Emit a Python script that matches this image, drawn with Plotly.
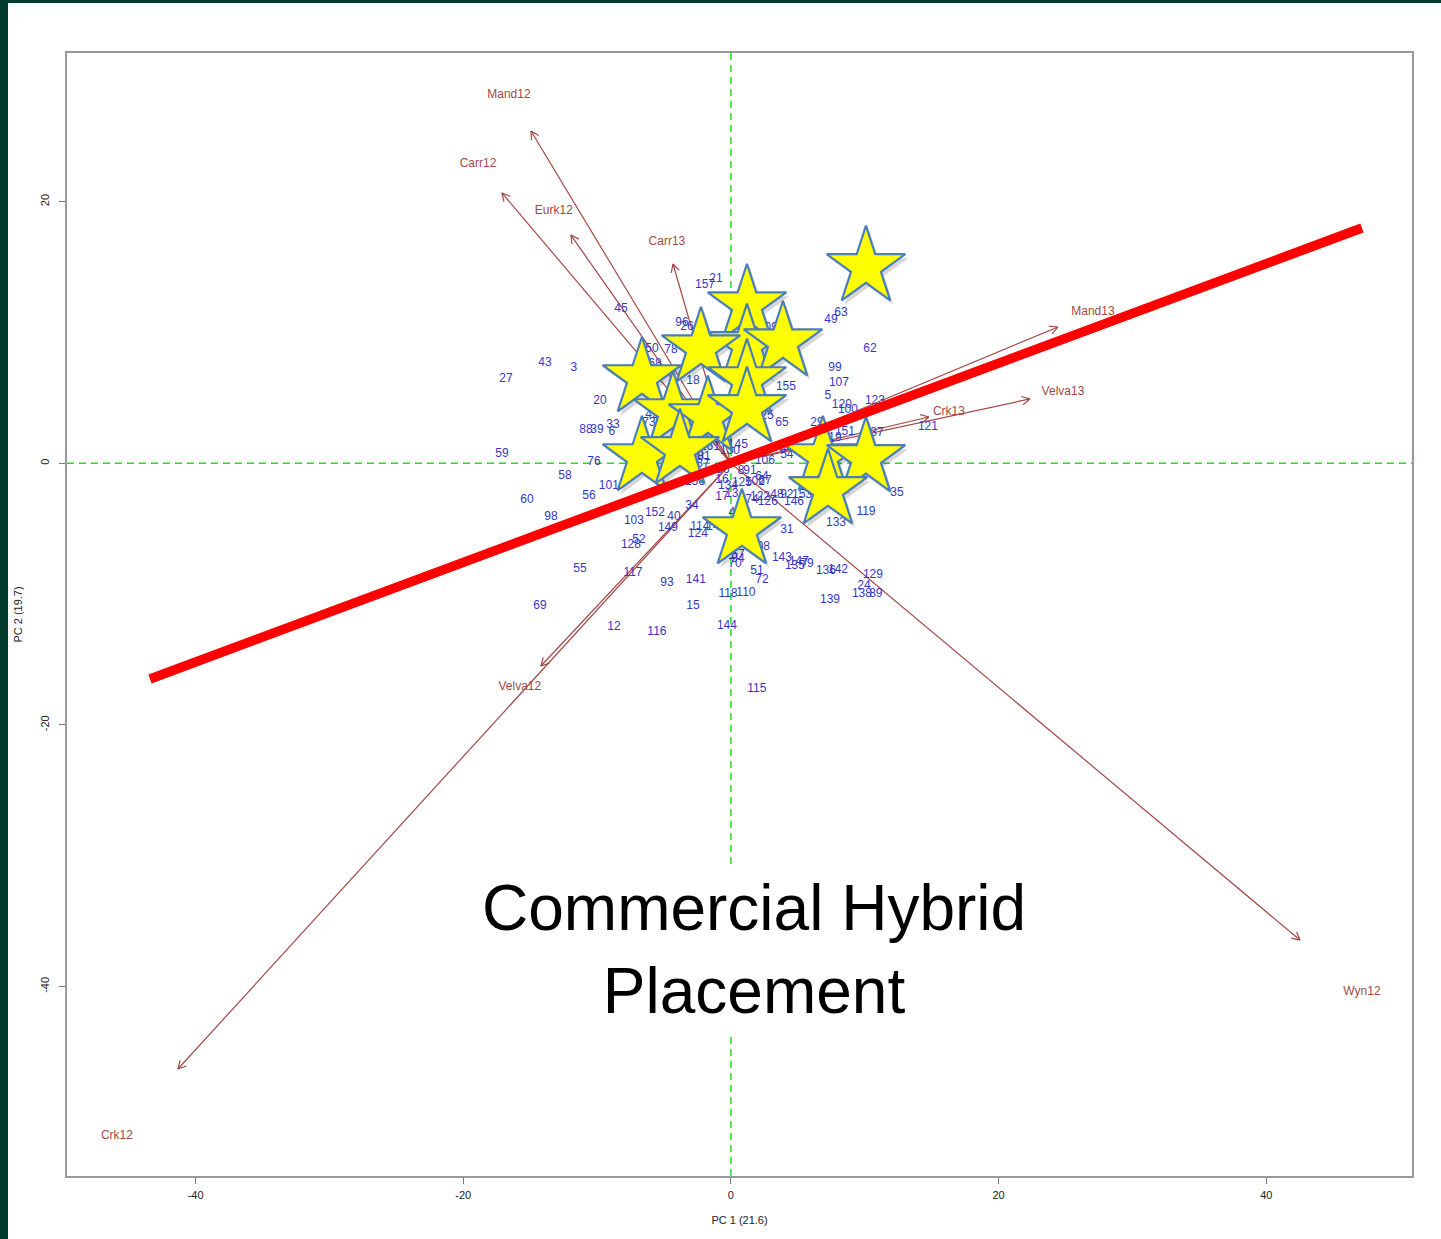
import numpy as np
import plotly.graph_objects as go

# ---------------- data ----------------
x_tick_vals = [-40, -20, 0, 20, 40]
x_tick_text = ["-40", "-20", "0", "20", "40"]
y_tick_vals = [-40, -20, 0, 20]
y_tick_text = ["-40", "-20", "0", "20"]
x_title = "PC 1 (21.6)"
y_title = "PC 2 (19.7)"

arrow_names = ["Mand12", "Carr12", "Eurk12", "Carr13", "Mand13",
               "Velva13", "Crk13", "Velva12", "Crk12", "Wyn12"]
arrow_x = [-14.94, -17.11, -11.96, -4.33, 24.43, 22.34, 14.79, -14.20, -41.32, 42.52]
arrow_y = [25.41, 20.67, 17.45, 15.24, 10.42, 4.92, 3.54, -15.50, -46.31, -36.45]
arrow_label_x = [-16.59, -18.90, -13.23, -4.78, 27.05, 24.81, 16.29, -15.77, -45.88, 47.15]
arrow_label_y = [28.15, 22.88, 19.29, 16.92, 11.57, 5.45, 3.92, -17.09, -51.43, -40.42]

pt_labels = ["21", "157", "45", "96", "26", "50", "78", "68", "18", "43",
             "3", "27", "20", "42", "73", "88", "39", "33", "6", "59",
             "76", "58", "101", "56", "60", "98", "103", "152", "40", "149",
             "34", "114", "124", "14", "128", "52", "55", "117", "93", "141",
             "69", "15", "118", "110", "12", "116", "144", "115", "31", "108",
             "57", "94", "70", "51", "72", "143", "135", "147", "79", "136",
             "142", "129", "24", "138", "89", "139", "133", "119", "35", "121",
             "123", "120", "100", "5", "107", "99", "62", "49", "63", "155",
             "65", "25", "29", "151", "19", "37", "106", "54", "84", "145",
             "130", "161", "80", "81", "87", "156", "86", "8", "91", "16",
             "134", "125", "102", "67", "64", "17", "13", "122", "48", "92",
             "153", "126", "146", "74", "4", "109"]
pt_x = [-1.12, -1.94, -8.22, -3.66, -3.29, -5.90, -4.48, -5.68, -2.84, -13.90,
        -11.73, -16.81, -9.79, -5.90, -6.13, -10.83, -10.01, -8.82, -8.89, -17.11,
        -10.24, -12.40, -9.12, -10.61, -15.24, -13.45, -7.25, -5.68, -4.26, -4.71,
        -2.91, -2.32, -2.47, -1.34, -7.47, -6.87, -11.28, -7.32, -4.78, -2.62,
        -14.27, -2.84, -0.22, 1.12, -8.74, -5.53, -0.30, 1.94, 4.18, 2.17,
        0.52, 0.52, 0.30, 1.94, 2.32, 3.81, 4.78, 5.08, 5.68, 7.10,
        8.00, 10.61, 9.94, 9.79, 10.83, 7.40, 7.85, 10.09, 12.40, 14.72,
        10.76, 8.29, 8.74, 7.25, 8.07, 7.77, 10.39, 7.47, 8.22, 4.11,
        3.81, 2.69, 6.43, 8.52, 7.77, 10.91, 2.54, 4.18, 4.11, 0.52,
        -0.07, -1.57, -2.54, -2.02, -2.09, -2.69, -0.60, 0.75, 1.42, -0.67,
        -0.22, 0.82, 1.79, 2.54, 2.32, -0.67, 0.07, 2.17, 3.44, 4.18,
        5.31, 2.76, 4.71, 1.57, 0.07, 2.76]
pt_y = [14.09, 13.63, 11.80, 10.73, 10.42, 8.74, 8.66, 7.59, 6.29, 7.67,
        7.29, 6.45, 4.76, 3.69, 3.08, 2.55, 2.55, 2.93, 2.39, 0.71,
        0.10, -0.97, -1.74, -2.50, -2.80, -4.10, -4.41, -3.80, -4.11, -4.95,
        -3.26, -4.87, -5.41, -4.87, -6.25, -5.86, -8.08, -8.39, -9.15, -8.92,
        -10.91, -10.91, -10.00, -9.92, -12.49, -12.87, -12.41, -17.23, -5.10, -6.40,
        -7.03, -7.34, -7.72, -8.23, -8.92, -7.24, -7.85, -7.55, -7.70, -8.23,
        -8.16, -8.54, -9.38, -9.99, -9.99, -10.45, -4.59, -3.75, -2.29, 2.78,
        4.76, 4.46, 4.07, 5.15, 6.14, 7.29, 8.74, 10.96, 11.49, 5.83,
        3.08, 3.62, 3.08, 2.39, 1.93, 2.31, 0.18, 0.63, 1.09, 1.40,
        0.94, 1.25, 0.56, 0.48, -0.05, -1.43, -0.51, -0.59, -0.59, -1.28,
        -1.74, -1.51, -1.43, -1.35, -1.04, -2.57, -2.34, -2.57, -2.42, -2.42,
        -2.42, -2.96, -2.96, -2.81, -3.80, 10.32]

star_x = [1.20, 1.20, 3.89, -2.24, 1.20, -6.65, -4.33, -1.72, 1.20, -6.65,
          -3.81, 0.82, 10.09, 6.87, 10.09, 7.25]
star_y = [12.10, 9.05, 9.27, 8.81, 6.37, 6.52, 3.92, 3.54, 4.23, 0.48,
          1.02, -5.10, 15.01, 0.48, 0.41, -2.04]

red_line_x = [-43.41, 47.15]
red_line_y = [-16.49, 17.99]

note_text = "Commercial Hybrid<br>Placement"
note_x, note_y = 1.72, -37.15

# ---------------- layout geometry ----------------
W, H = 1441, 1239
ML, MR, MT, MB = 67, 29, 53, 63
X_RANGE = [-49.61, 50.89]
Y_RANGE = [-54.49, 31.37]
pw, ph = W - ML - MR, H - MT - MB
pxx = pw / (X_RANGE[1] - X_RANGE[0])
pxy = ph / (Y_RANGE[1] - Y_RANGE[0])

ARROW_COL = "#a34846"
PT_COL = "#3636c6"
FONT = "Liberation Sans, Arial, Helvetica, sans-serif"
STAR_SIZE = 59

fig = go.Figure()

# arrows (shafts + open V heads)
ax, ay = [], []
head_len, head_ang = 9.0, np.deg2rad(28)
for tx, ty in zip(arrow_x, arrow_y):
    ax += [0, tx, None]
    ay += [0, ty, None]
    dx, dy = tx * pxx, ty * pxy
    n = np.hypot(dx, dy)
    ux, uy = dx / n, dy / n
    for s in (1, -1):
        c, sn = np.cos(s * head_ang), np.sin(s * head_ang)
        rx, ry = ux * c - uy * sn, ux * sn + uy * c
        hx = tx - head_len * rx / pxx
        hy = ty - head_len * ry / pxy
        ax += [hx, tx, None]
        ay += [hy, ty, None]
fig.add_trace(go.Scatter(x=ax, y=ay, mode="lines",
                         line=dict(color=ARROW_COL, width=1.2),
                         hoverinfo="skip"))

# arrow labels
fig.add_trace(go.Scatter(x=arrow_label_x, y=arrow_label_y, mode="text",
                         text=arrow_names,
                         textfont=dict(color=ARROW_COL, size=12, family=FONT),
                         hoverinfo="skip"))

# observation numbers
fig.add_trace(go.Scatter(x=pt_x, y=pt_y, mode="text", text=pt_labels,
                         textfont=dict(color=PT_COL, size=12, family=FONT),
                         hoverinfo="skip"))

# star shadows
sh_dx, sh_dy = 3 / pxx, -4 / pxy
fig.add_trace(go.Scatter(x=[v + sh_dx for v in star_x],
                         y=[v + sh_dy for v in star_y],
                         mode="markers",
                         marker=dict(symbol="star", size=STAR_SIZE,
                                     color="rgba(0,0,0,0.16)",
                                     line=dict(width=0)),
                         hoverinfo="skip"))
# stars
fig.add_trace(go.Scatter(x=star_x, y=star_y, mode="markers",
                         marker=dict(symbol="star", size=STAR_SIZE, color="#ffff00",
                                     line=dict(color="#4a7ebb", width=2.2)),
                         hoverinfo="skip"))

# red line
fig.add_trace(go.Scatter(x=red_line_x, y=red_line_y, mode="lines",
                         line=dict(color="#ff0000", width=9.5),
                         hoverinfo="skip"))

# background: dark green frame + white page
def px_to_paper_x(p):
    return (p - ML) / pw

def px_to_paper_y(p):
    return (H - MB - p) / ph

shapes = [
    dict(type="rect", xref="paper", yref="paper", layer="below",
         x0=px_to_paper_x(8), x1=px_to_paper_x(W + 5),
         y0=px_to_paper_y(H + 5), y1=px_to_paper_y(3),
         fillcolor="white", line=dict(width=0)),
    dict(type="line", xref="x", yref="paper", layer="below",
         x0=0, x1=0, y0=0, y1=1,
         line=dict(color="#22dd22", width=1.5, dash="7px,5px")),
    dict(type="line", xref="paper", yref="y", layer="below",
         x0=0, x1=1, y0=0, y1=0,
         line=dict(color="#22dd22", width=1.5, dash="7px,5px")),
]

fig.update_layout(
    width=W, height=H,
    margin=dict(l=ML, r=MR, t=MT, b=MB, pad=0),
    paper_bgcolor="#013b2c",
    plot_bgcolor="white",
    showlegend=False,
    hovermode=False,
    shapes=shapes,
    font=dict(family=FONT, color="#222222", size=11),
    annotations=[dict(x=note_x, y=note_y, xref="x", yref="y",
                      text=note_text, showarrow=False,
                      font=dict(size=64, color="black", family=FONT),
                      bgcolor="white", borderpad=6, align="center")],
)
fig.update_xaxes(range=X_RANGE, tickvals=x_tick_vals, ticktext=x_tick_text,
                 showgrid=False,
                 zeroline=False, showline=True, mirror=True,
                 linecolor="#999999", linewidth=1.5,
                 ticks="outside", ticklen=6, tickcolor="#777777",
                 ticklabelstandoff=2,
                 tickfont=dict(size=11, color="#222222"),
                 title=dict(text=x_title, font=dict(size=11), standoff=16))
fig.update_yaxes(range=Y_RANGE, tickvals=y_tick_vals, ticktext=y_tick_text,
                 showgrid=False,
                 zeroline=False, showline=True, mirror=True,
                 linecolor="#999999", linewidth=1.5,
                 ticks="outside", ticklen=6, tickcolor="#777777",
                 tickangle=-90, ticklabelstandoff=6,
                 tickfont=dict(size=11, color="#222222"),
                 title=dict(text=y_title, font=dict(size=11), standoff=14))

fig.write_html("out.html",
               config={"displayModeBar": False},
               post_script="document.body.style.margin='0';"
                           "document.body.style.background='white';")
